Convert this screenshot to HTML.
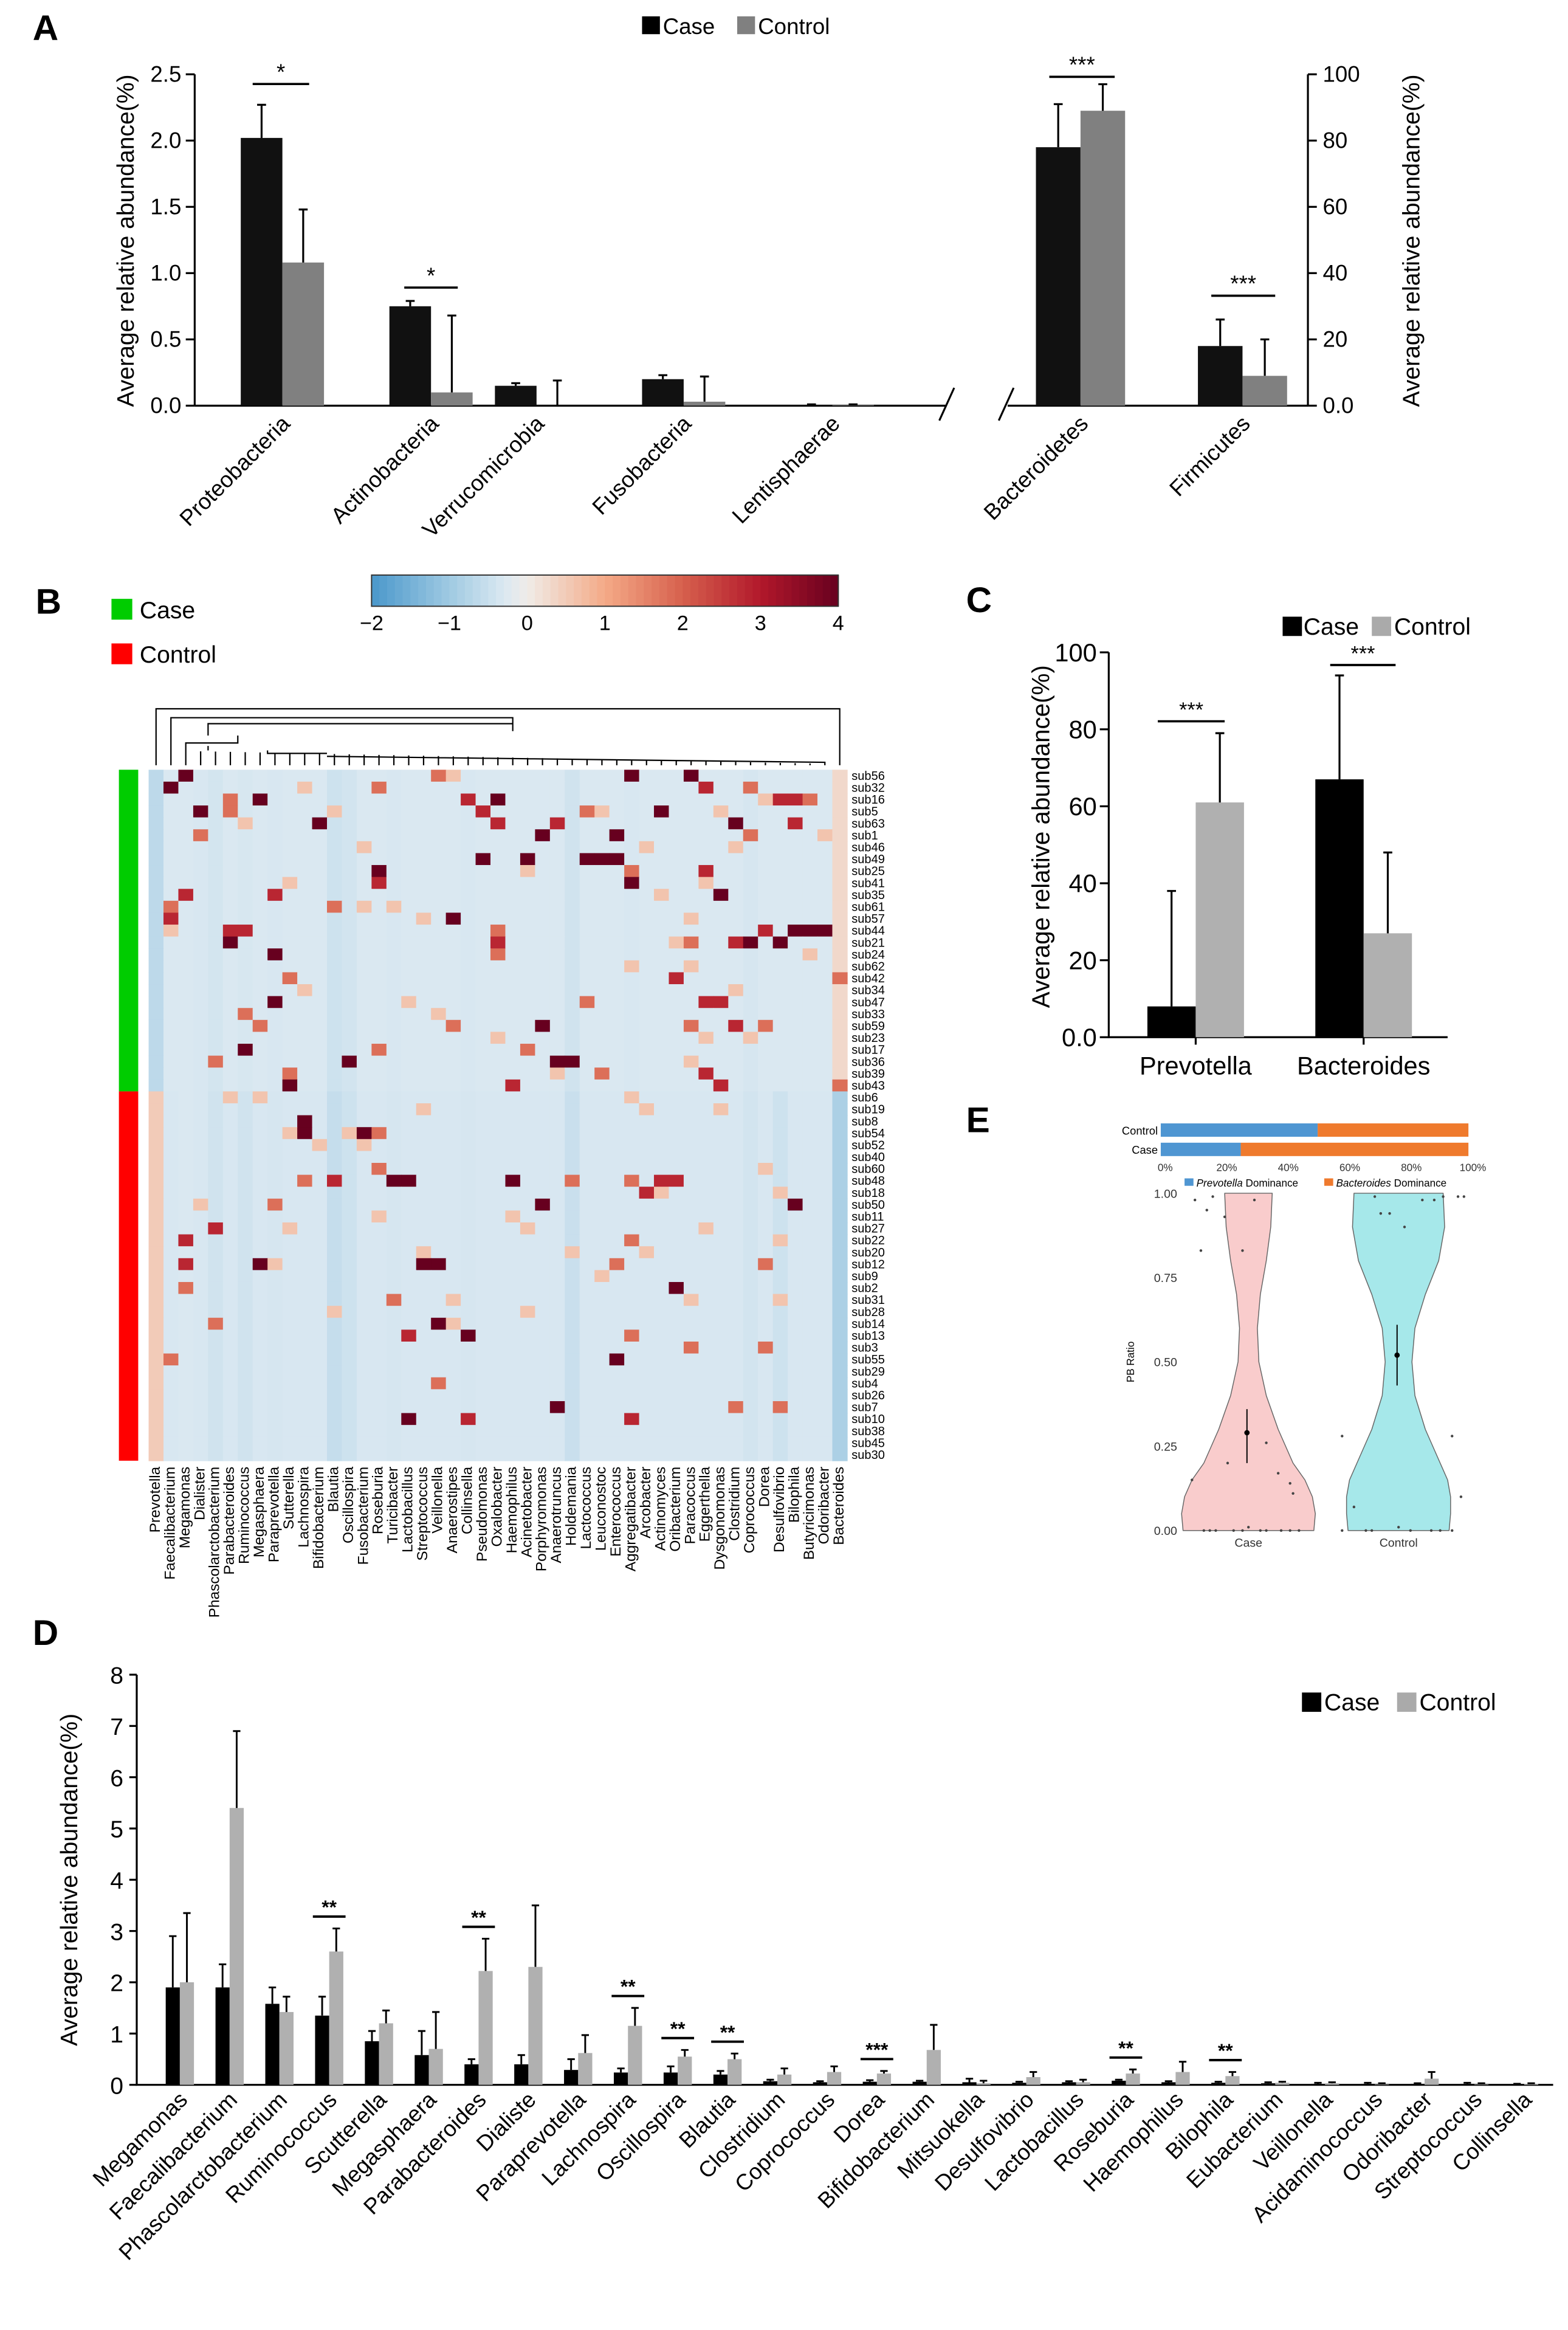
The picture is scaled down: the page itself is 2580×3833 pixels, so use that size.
<!DOCTYPE html>
<html><head><meta charset="utf-8">
<style>
html,body{margin:0;padding:0;background:#fff;}
svg{display:block;font-family:"Liberation Sans",Arial,sans-serif;}
</style></head>
<body>
<svg id="fig" xmlns="http://www.w3.org/2000/svg" width="2580" height="3833" viewBox="0 0 1055 1568" preserveAspectRatio="none">
<rect x="0" y="0" width="1055" height="1568" fill="#fff"/>
<g id="A"></g>
<g id="B"></g>
<g id="C"></g>
<g id="E"></g>
<g id="D"></g>
</svg>
<script>
// ---------- Panel A data ----------
const aLeftCats=["Proteobacteria","Actinobacteria","Verrucomicrobia","Fusobacteria","Lentisphaerae"];
const aLeftCase=[2.02,0.75,0.15,0.2,0.005];
const aLeftCaseErr=[2.27,0.79,0.17,0.23,0.01];
const aLeftCtrl=[1.08,0.1,0.0,0.03,0.005];
const aLeftCtrlErr=[1.48,0.68,0.19,0.22,0.01];
const aLeftTicks=[0,0.5,1.0,1.5,2.0,2.5];
const aRightCats=["Bacteroidetes","Firmicutes"];
const aRightCase=[78,18];
const aRightCaseErr=[91,26];
const aRightCtrl=[89,9];
const aRightCtrlErr=[97,20];
const aRightTicks=[0,20,40,60,80,100];
// ---------- Panel C data ----------
const cCats=["Prevotella","Bacteroides"];
const cCase=[8,67];
const cCaseErr=[38,94];
const cCtrl=[61,27];
const cCtrlErr=[79,48];
const cTicks=[0,20,40,60,80,100];
// ---------- Panel D data ----------
const dCats=["Megamonas","Faecalibacterium","Phascolarctobacterium","Ruminococcus","Scutterella","Megasphaera","Parabacteroides","Dialiste","Paraprevotella","Lachnospira","Oscillospira","Blautia","Clostridium","Coprococcus","Dorea","Bifidobacterium","Mitsuokella","Desulfovibrio","Lactobacillus","Roseburia","Haemophilus","Bilophila","Eubacterium","Veillonella","Acidaminococcus","Odoribacter","Streptococcus","Collinsella"];
const dCase=[1.9,1.9,1.58,1.35,0.85,0.58,0.4,0.4,0.29,0.24,0.24,0.2,0.07,0.05,0.06,0.06,0.05,0.04,0.05,0.08,0.05,0.04,0.03,0.02,0.02,0.02,0.02,0.01];
const dCaseErr=[2.9,2.35,1.9,1.72,1.05,1.05,0.5,0.58,0.5,0.32,0.36,0.27,0.1,0.07,0.09,0.08,0.12,0.06,0.07,0.1,0.07,0.06,0.05,0.04,0.04,0.03,0.04,0.02];
const dCtrl=[2.0,5.4,1.42,2.6,1.2,0.7,2.22,2.3,0.62,1.15,0.55,0.5,0.2,0.25,0.22,0.68,0.03,0.15,0.05,0.22,0.25,0.17,0.04,0.03,0.01,0.12,0.01,0.02];
const dCtrlErr=[3.35,6.9,1.72,3.05,1.45,1.42,2.85,3.5,0.97,1.5,0.68,0.61,0.32,0.36,0.27,1.17,0.08,0.25,0.1,0.3,0.45,0.25,0.06,0.05,0.03,0.25,0.03,0.03];
const dSig=["","","","**","","","**","","","**","**","**","","","***","","","","","**","","**","","","","","",""];
const dTicks=[0,1,2,3,4,5,6,7,8];
// ---------- Panel B data ----------
const hCols=["Prevotella","Faecalibacterium","Megamonas","Dialister","Phascolarctobacterium","Parabacteroides","Ruminococcus","Megasphaera","Paraprevotella","Sutterella","Lachnospira","Bifidobacterium","Blautia","Oscillospira","Fusobacterium","Roseburia","Turicibacter","Lactobacillus","Streptococcus","Veillonella","Anaerostipes","Collinsella","Pseudomonas","Oxalobacter","Haemophilus","Acinetobacter","Porphyromonas","Anaerotruncus","Holdemania","Lactococcus","Leuconostoc","Enterococcus","Aggregatibacter","Arcobacter","Actinomyces","Oribacterium","Paracoccus","Eggerthella","Dysgonomonas","Clostridium","Coprococcus","Dorea","Desulfovibrio","Bilophila","Butyricimonas","Odoribacter","Bacteroides"];
const hRows=["sub56","sub32","sub16","sub5","sub63","sub1","sub46","sub49","sub25","sub41","sub35","sub61","sub57","sub44","sub21","sub24","sub62","sub42","sub34","sub47","sub33","sub59","sub23","sub17","sub36","sub39","sub43","sub6","sub19","sub8","sub54","sub52","sub40","sub60","sub48","sub18","sub50","sub11","sub27","sub22","sub20","sub12","sub9","sub2","sub31","sub28","sub14","sub13","sub3","sub55","sub29","sub4","sub26","sub7","sub10","sub38","sub45","sub30"];
const hGroupCaseCount=27;
const colBaseCase=[-0.65,-0.3,-0.3,-0.32,-0.38,-0.3,-0.33,-0.3,-0.32,-0.3,-0.3,-0.3,-0.45,-0.4,-0.3,-0.3,-0.32,-0.3,-0.3,-0.3,-0.3,-0.32,-0.3,-0.3,-0.3,-0.3,-0.3,-0.3,-0.42,-0.3,-0.3,-0.3,-0.32,-0.3,-0.3,-0.3,-0.3,-0.3,-0.3,-0.3,-0.35,-0.3,-0.3,-0.3,-0.3,-0.3,0.3];
const colBaseCtrl=[0.5,-0.32,-0.3,-0.32,-0.42,-0.32,-0.42,-0.32,-0.35,-0.32,-0.32,-0.32,-0.55,-0.45,-0.32,-0.32,-0.35,-0.32,-0.32,-0.32,-0.32,-0.35,-0.32,-0.32,-0.32,-0.32,-0.32,-0.32,-0.5,-0.32,-0.32,-0.32,-0.32,-0.32,-0.32,-0.32,-0.32,-0.32,-0.32,-0.32,-0.4,-0.32,-0.45,-0.32,-0.32,-0.32,-0.85];
const cellRow=[0,0,0,0,1,1,1,1,2,2,2,2,2,2,2,3,3,3,3,3,4,4,4,4,4,5,5,5,5,7,7,7,7,7,8,8,8,9,9,10,10,10,11,11,12,12,13,13,13,13,13,13,13,14,14,14,14,14,14,15,15,17,17,17,19,19,19,19,20,21,21,21,21,21,21,23,23,23,24,24,24,24,25,25,25,26,26,26,26,29,30,30,30,33,34,34,34,34,34,34,34,34,34,35,36,36,36,38,39,39,41,41,41,41,41,41,43,43,44,46,46,47,47,47,48,48,49,49,51,53,53,53,54,54,54,
 0,1,3,6,2,5,9,11,6,4,12,16,8,14,18,20,22,10,3,15,27,30,2,7,11,13,19,22,25,28,31,33,36,38,40,44,45,0,3,6,9,12,16,18,22,24,27,30,34,37,40,42,44,28,31,35,38,45,27,36,41,44,28,35,38,46,39,40,37,44];
const cellCol=[2,32,36,19,1,15,37,40,7,5,21,23,42,43,44,3,5,22,34,29,11,23,27,39,43,3,26,31,40,22,25,29,30,31,15,32,37,15,32,2,8,38,1,12,1,20,5,6,23,41,43,44,45,5,23,36,39,40,42,8,23,9,35,46,37,38,8,29,6,7,20,26,36,39,41,6,15,25,4,13,27,28,37,9,30,9,24,38,46,10,10,14,15,15,16,17,24,10,12,28,32,34,35,33,8,26,43,4,2,32,7,2,18,19,31,41,2,35,16,4,19,17,21,32,36,41,1,31,19,27,39,42,17,21,32,
 20,10,30,33,41,45,9,14,39,6,18,36,25,35,10,19,40,34,38,44,7,13,21,29,16,1,17,23,27,33,11,41,26,9,33,20,25,20,12,14,37,36,32,39,37,36,5,9,35,15,28,30,36,38,14,42,37,12,32,3,8,42,18,34,25,20,42,18,24];
const cellVal=[4,4,4,1.8,4,1.8,2.8,1.8,4,1.8,2.8,4,2.8,2.8,1.8,4,1.8,2.8,4,1.8,4,2.8,2.8,4,2.8,1.8,4,4,1.8,4,4,4,4,4,4,1.8,2.8,2.8,4,2.8,2.8,4,1.8,1.8,2.8,4,2.8,2.8,1.8,2.8,4,4,4,4,2.8,1.8,2.8,4,4,4,1.8,1.8,2.8,1.8,2.8,2.8,4,1.8,1.8,1.8,1.8,4,1.8,2.8,1.8,4,1.8,1.8,1.8,4,4,4,2.8,1.8,1.8,4,2.8,2.8,1.8,4,4,4,1.8,1.8,4,4,4,1.8,2.8,1.8,1.8,2.8,2.8,2.8,1.8,4,4,2.8,2.8,1.8,4,2.8,4,4,1.8,1.8,1.8,4,1.8,1.8,4,2.8,4,1.8,1.8,1.8,1.8,4,1.8,4,1.8,1.8,4,2.8,2.8,
 0.6,0.6,0.6,0.6,0.6,0.6,0.6,0.6,0.6,0.6,0.6,0.6,0.6,0.6,0.6,0.6,0.6,0.6,0.6,0.6,0.6,0.6,0.6,0.6,0.6,0.6,0.6,0.6,0.6,0.6,0.6,0.6,0.6,0.6,0.6,0.6,0.6,0.6,0.6,0.6,0.6,0.6,0.6,0.6,0.6,0.6,0.6,0.6,0.6,0.6,0.6,0.6,0.6,0.6,0.6,0.6,0.6,0.6,0.6,0.6,0.6,0.6,0.6,0.6,0.6,0.6,0.6,0.6,0.6,0.6];
const cbTicks=[-2,-1,0,1,2,3,4];
// ---------- Panel E data ----------
const eGroups=["Control","Case"];
const ePrevPct=[51,26];
const ePctTicks=["0%","20%","40%","60%","80%","100%"];
const vY=[0,0.05,0.1,0.15,0.2,0.3,0.4,0.5,0.6,0.7,0.8,0.9,1.0];
const vCaseW=[44,45,43,38,30,20,12,7,6,8,12,15,16];
const vCtrlW=[34,35,35,33,28,18,11,9,11,18,27,31,30];
const vTicks=[0,0.25,0.5,0.75,1.0];
const vCaseMed=[0.29,0.2,0.36];
const vCtrlMed=[0.52,0.43,0.61];
const caseDotDx=[-30,-26,-22,-10,-4,0,8,12,22,28,34,-38,-14,20,28,30,-36,-24,-16,4,-32,-28,12,-4];
const caseDotY=[0,0,0,0,0,0.01,0,0,0,0,0,0.15,0.2,0.17,0.14,0.11,0.98,0.99,0.93,0.98,0.83,0.95,0.26,0.83];
const ctrlDotDx=[-38,-22,-18,0,8,22,28,36,42,-12,-6,4,16,24,30,40,-30,-16,36,44,-38];
const ctrlDotY=[0,0,0,0.01,0,0,0,0,0.1,0.94,0.94,0.9,0.98,0.98,0.99,0.99,0.07,0.99,0.28,0.99,0.28];

const NS="http://www.w3.org/2000/svg";
function mk(parent,tag,attrs,text){const e=document.createElementNS(NS,tag);for(const k in attrs)e.setAttribute(k,attrs[k]);if(text!==undefined)e.textContent=text;parent.appendChild(e);return e;}

// ===== Panel A =====
(function(){
const g=document.getElementById('A');
const y0=273,yTop=50;
const yl=v=>y0-(v/2.5)*(y0-yTop);
const yr=v=>y0-(v/100)*(y0-yTop);
let t;
t=mk(g,'text',{x:22,y:27,'font-size':24,'font-weight':'bold'},'A');


let r=mk(g,'rect',{x:432,y:11,width:12,height:12,fill:'#000'});


t=mk(g,'text',{x:446,y:23,'font-size':15},'Case');


r=mk(g,'rect',{x:496,y:11,width:12,height:12,fill:'#808080'});


t=mk(g,'text',{x:510,y:23,'font-size':15},'Control');


let l=mk(g,'line',{x1:131,y1:yl(2.5),x2:131,y2:y0,stroke:'#000','stroke-width':1.3});


aLeftTicks.forEach(v=>{
 const tk=mk(g,'line',{x1:125,y1:yl(v),x2:131,y2:yl(v),stroke:'#000','stroke-width':1.3});
 
 
 const tl=mk(g,'text',{x:122,y:yl(v)+5,'font-size':15,'text-anchor':'end'},v.toFixed(1));
 
 
});
t=mk(g,'text',{x:0,y:0,'font-size':16,'text-anchor':'middle',transform:'translate(90,162) rotate(-90)'},'Average relative abundance(%)');


l=mk(g,'path',{d:`M131 ${y0} L636 ${y0} M632 ${y0+10} L642 ${y0-12} M672 ${y0+10} L682 ${y0-12} M678 ${y0} L880 ${y0}`,stroke:'#000','stroke-width':1.3,fill:'none'});


l=mk(g,'line',{x1:880,y1:yr(100),x2:880,y2:y0,stroke:'#000','stroke-width':1.3});


aRightTicks.forEach(v=>{
 const tk=mk(g,'line',{x1:880,y1:yr(v),x2:886,y2:yr(v),stroke:'#000','stroke-width':1.3});
 
 
 const tl=mk(g,'text',{x:890,y:yr(v)+5,'font-size':15},v===0?'0.0':String(v));
 
 
});
t=mk(g,'text',{x:0,y:0,'font-size':16,'text-anchor':'middle',transform:'translate(955,162) rotate(-90)'},'Average relative abundance(%)');


function bar(x,w,v,ev,fn,col,nm){
 const b=mk(g,'rect',{x:x,y:fn(v),width:w,height:y0-fn(v),fill:col});
 
 
 const e=mk(g,'path',{d:`M${x+w/2} ${fn(v)} L${x+w/2} ${fn(ev)} M${x+w/2-3} ${fn(ev)} L${x+w/2+3} ${fn(ev)}`,stroke:'#000','stroke-width':1.3});
 
 
}
const leftX=[162,262,333,432,532];
aLeftCats.forEach((c,i)=>{
 bar(leftX[i],28,aLeftCase[i],aLeftCaseErr[i],yl,'#111','bar-case-'+c.toLowerCase());
 bar(leftX[i]+28,28,aLeftCtrl[i],aLeftCtrlErr[i],yl,'#808080','bar-control-'+c.toLowerCase());
 const lb=mk(g,'text',{x:0,y:0,'font-size':15,'text-anchor':'end',transform:`translate(${leftX[i]+34},286) rotate(-45)`},c);
 
 
});
const rightX=[697,806];
aRightCats.forEach((c,i)=>{
 bar(rightX[i],30,aRightCase[i],aRightCaseErr[i],yr,'#111','bar-case-'+c.toLowerCase());
 bar(rightX[i]+30,30,aRightCtrl[i],aRightCtrlErr[i],yr,'#808080','bar-control-'+c.toLowerCase());
 const lb=mk(g,'text',{x:0,y:0,'font-size':15,'text-anchor':'end',transform:`translate(${rightX[i]+36},286) rotate(-45)`},c);
 
 
});
function sig(x1,x2,y,s){
 const ln=mk(g,'line',{x1:x1,y1:y,x2:x2,y2:y,stroke:'#000','stroke-width':1.5});
 
 
 const st=mk(g,'text',{x:(x1+x2)/2,y:y-3,'font-size':15,'text-anchor':'middle'},s);
 
 
}
sig(170,208,yl(2.27)-14,'*');
sig(272,308,yl(0.79)-9,'*');
sig(706,750,yr(97)-5,'***');
sig(815,858,yr(26)-16,'***');
})();

// ===== Panel B =====
(function(){
const g=document.getElementById('B');
let t=mk(g,'text',{x:24,y:413,'font-size':24,'font-weight':'bold'},'B');


let r=mk(g,'rect',{x:75,y:403,width:14,height:14,fill:'#00cc00'});


t=mk(g,'text',{x:94,y:416,'font-size':16},'Case');


r=mk(g,'rect',{x:75,y:433,width:14,height:14,fill:'#ff0000'});


t=mk(g,'text',{x:94,y:446,'font-size':16},'Control');


const stops=[[-2,[74,151,203]],[-1,[159,202,226]],[-0.3,[218,232,241]],[0,[240,236,232]],[1,[244,170,135]],[2,[214,96,77]],[3,[178,24,43]],[4,[103,0,31]]];
function cmap(v){
 v=Math.max(-2,Math.min(4,v));
 for(let i=0;i<stops.length-1;i++){
  if(v<=stops[i+1][0]){const f=(v-stops[i][0])/(stops[i+1][0]-stops[i][0]);const a=stops[i][1],b=stops[i+1][1];return `rgb(${Math.round(a[0]+(b[0]-a[0])*f)},${Math.round(a[1]+(b[1]-a[1])*f)},${Math.round(a[2]+(b[2]-a[2])*f)})`;}
 }
 return 'rgb(103,0,31)';
}
const cbx0=250,cbx1=564,cby=387,cbh=21;
const cbScale=v=>cbx0+(v+2)/6*(cbx1-cbx0);
const nSteps=60;
for(let i=0;i<nSteps;i++){
 const v=-2+6*(i+0.5)/nSteps;
 const s=mk(g,'rect',{x:cbScale(-2+6*i/nSteps),y:cby,width:(cbx1-cbx0)/nSteps+0.4,height:cbh,fill:cmap(v)});
 
 
}
r=mk(g,'rect',{x:cbx0,y:cby,width:cbx1-cbx0,height:cbh,fill:'none',stroke:'#333','stroke-width':0.8});


cbTicks.forEach(v=>{
 const tl=mk(g,'text',{x:cbScale(v),y:cby+cbh+16,'font-size':14,'text-anchor':'middle'},v<0?'\u2212'+(-v):String(v));
 
 
});
const hx0=100,hx1=570,hy0=518,hy1=983;
const cw=(hx1-hx0)/hCols.length,rh=(hy1-hy0)/hRows.length;
const M=hRows.map((_,ri)=>hCols.map((_,ci)=>ri<hGroupCaseCount?colBaseCase[ci]:colBaseCtrl[ci]));
cellRow.forEach((ri,k)=>{if(ri<hRows.length&&cellCol[k]<hCols.length)M[ri][cellCol[k]]=Math.max(M[ri][cellCol[k]],cellVal[k]);});
M.forEach((row,ri)=>row.forEach((v,ci)=>{
 const c=mk(g,'rect',{x:hx0+ci*cw,y:hy0+ri*rh,width:cw+0.3,height:rh+0.3,fill:cmap(v)});
 
 
}));
r=mk(g,'rect',{x:80,y:hy0,width:13,height:rh*hGroupCaseCount,fill:'#00cc00'});


r=mk(g,'rect',{x:80,y:hy0+rh*hGroupCaseCount,width:13,height:rh*(hRows.length-hGroupCaseCount),fill:'#ff0000'});


hRows.forEach((s,ri)=>{
 const tl=mk(g,'text',{x:hx1+3,y:hy0+ri*rh+rh*0.85,'font-size':8.2},s);
 
 
});
hCols.forEach((s,ci)=>{
 const tl=mk(g,'text',{x:0,y:0,'font-size':10,'text-anchor':'end',transform:`translate(${hx0+ci*cw+cw*0.75},${hy1+4}) rotate(-90)`},s);
 
 
});
let d=`M${hx0+cw*0.5} ${hy0-3} L${hx0+cw*0.5} 477 L${hx1-cw*0.5} 477 L${hx1-cw*0.5} ${hy0-3}`;
d+=` M${hx0+cw*1.5} ${hy0-3} L${hx0+cw*1.5} 483 L345 483 L345 492`;
d+=` M${hx0+cw*4} 495 L${hx0+cw*4} 487 L345 487`;
d+=` M${hx0+cw*2.5} ${hy0-3} L${hx0+cw*2.5} 500 L${hx0+cw*6} 500 L${hx0+cw*6} 495`;
d+=` M${hx0+cw*4} 502 L${hx0+cw*4} 505 M${hx0+cw*8} 505 L${hx0+cw*8} 507 L${hx0+cw*12} 507 M${hx0+cw*12} 509 L${hx1-cw*1.5} 513 L${hx1-cw*1.5} ${hy0-3}`;
for(let i=3;i<hCols.length-1;i++){const x=hx0+cw*(i+0.5);d+=` M${x} ${hy0-3} L${x} ${Math.min(hy0-3,505+i*0.2)}`;}
const dg=mk(g,'path',{d:d,stroke:'#000','stroke-width':0.9,fill:'none'});


})();

// ===== Panel C =====
(function(){
const g=document.getElementById('C');
const y0=698,yT=439,ax=746;
const y=v=>y0-v/100*(y0-yT);
let t=mk(g,'text',{x:650,y:412,'font-size':24,'font-weight':'bold'},'C');


let r=mk(g,'rect',{x:863,y:415,width:13,height:13,fill:'#000'});


t=mk(g,'text',{x:877,y:427,'font-size':16},'Case');


r=mk(g,'rect',{x:923,y:415,width:13,height:13,fill:'#aaa'});


t=mk(g,'text',{x:938,y:427,'font-size':16},'Control');


let l=mk(g,'path',{d:`M${ax} ${y(100)} L${ax} ${y0} L974 ${y0}`,stroke:'#000','stroke-width':1.3,fill:'none'});


cTicks.forEach(v=>{
 const tk=mk(g,'line',{x1:ax-6,y1:y(v),x2:ax,y2:y(v),stroke:'#000','stroke-width':1.3});
 
 
 const tl=mk(g,'text',{x:ax-8,y:y(v)+6,'font-size':17,'text-anchor':'end'},v===0?'0.0':String(v));
 
 
});
t=mk(g,'text',{x:0,y:0,'font-size':16.5,'text-anchor':'middle',transform:'translate(706,563) rotate(-90)'},'Average relative abundance(%)');


const gx=[772,885];
const bwc=32.5;
function bar(x,v,ev,col,nm){
 const b=mk(g,'rect',{x:x,y:y(v),width:bwc,height:y0-y(v),fill:col});
 
 
 const e=mk(g,'path',{d:`M${x+bwc/2} ${y(v)} L${x+bwc/2} ${y(ev)} M${x+bwc/2-3} ${y(ev)} L${x+bwc/2+3} ${y(ev)}`,stroke:'#000','stroke-width':1.3});
 
 
}
cCats.forEach((c,i)=>{
 bar(gx[i],cCase[i],cCaseErr[i],'#000','bar-case-'+c.toLowerCase());
 bar(gx[i]+bwc,cCtrl[i],cCtrlErr[i],'#b0b0b0','bar-control-'+c.toLowerCase());
 const tk=mk(g,'line',{x1:gx[i]+bwc,y1:y0,x2:gx[i]+bwc,y2:y0+5,stroke:'#000','stroke-width':1.3});
 
 
 const tl=mk(g,'text',{x:gx[i]+bwc,y:723,'font-size':17,'text-anchor':'middle'},c);
 
 
});
function sig(x1,x2,yy){
 const ln=mk(g,'line',{x1:x1,y1:yy,x2:x2,y2:yy,stroke:'#000','stroke-width':1.5});
 
 
 const st=mk(g,'text',{x:(x1+x2)/2,y:yy-3,'font-size':14,'text-anchor':'middle'},'***');
 
 
}
sig(779,824,y(Math.max(cCaseErr[0],cCtrlErr[0]))-8);
sig(895,939,y(Math.max(cCaseErr[1],cCtrlErr[1]))-7);
})();

// ===== Panel E =====
(function(){
const g=document.getElementById('E');
let t=mk(g,'text',{x:650,y:762,'font-size':24,'font-weight':'bold'},'E');


const bx0=781,bx1=988;
const px=p=>bx0+p/100*(bx1-bx0);
const by=[756,769];
eGroups.forEach((gr,i)=>{
 const a=mk(g,'rect',{x:bx0,y:by[i],width:px(ePrevPct[i])-bx0,height:9,fill:'#4f96d2'});
 
 
 const b=mk(g,'rect',{x:px(ePrevPct[i]),y:by[i],width:bx1-px(ePrevPct[i]),height:9,fill:'#ef7a2d'});
 
 
 const tl=mk(g,'text',{x:bx0-2,y:by[i]+7.5,'font-size':7.5,'text-anchor':'end'},gr);
 
 
});
ePctTicks.forEach((s,i)=>{
 const tl=mk(g,'text',{x:px(i*20)+3,y:788,'font-size':7,'text-anchor':'middle',fill:'#333'},s);
 
 
});
let r=mk(g,'rect',{x:797,y:793,width:6,height:5,fill:'#4f96d2'});


t=mk(g,'text',{x:805,y:798.5,'font-size':7},'');


mk(t,'tspan',{'font-style':'italic'},'Prevotella');
mk(t,'tspan',{},' Dominance');
r=mk(g,'rect',{x:891,y:793,width:6,height:5,fill:'#ef7a2d'});


t=mk(g,'text',{x:899,y:798.5,'font-size':7},'');


mk(t,'tspan',{'font-style':'italic'},'Bacteroides');
mk(t,'tspan',{},' Dominance');
const vy0=1030,vy1=803;
const y=v=>vy0-v*(vy0-vy1);
vTicks.forEach(v=>{
 const tl=mk(g,'text',{x:792,y:y(v)+3,'font-size':8,'text-anchor':'end',fill:'#333'},v.toFixed(2));
 
 
});
t=mk(g,'text',{x:0,y:0,'font-size':7,'text-anchor':'middle',transform:`translate(763,${y(0.5)}) rotate(-90)`},'PB Ratio');


function violin(cx,W,fill,nm){
 let p='M'+(cx-W[0])+' '+y(vY[0]);
 for(let i=1;i<vY.length;i++)p+=' L'+(cx-W[i])+' '+y(vY[i]);
 for(let i=vY.length-1;i>=0;i--)p+=' L'+(cx+W[i])+' '+y(vY[i]);
 p+=' Z';
 const v=mk(g,'path',{d:p,fill:fill,stroke:'#666','stroke-width':0.6,'stroke-linejoin':'round'});
 
 
}
violin(840,vCaseW,'#f9cccc','violin-case');
violin(941,vCtrlW,'#a6e8ea','violin-control');
function dots(cx,DX,DY){DX.forEach((dx,i)=>{
 const c=mk(g,'circle',{cx:cx+dx,cy:y(DY[i]),r:0.9,fill:'#444'});
 
 
});}
dots(840,caseDotDx,caseDotY);
dots(941,ctrlDotDx,ctrlDotY);
function med(cx,m,nm){
 const l=mk(g,'line',{x1:cx,y1:y(m[1]),x2:cx,y2:y(m[2]),stroke:'#000','stroke-width':0.8});
 
 
 const c=mk(g,'circle',{cx:cx,cy:y(m[0]),r:1.8,fill:'#000'});
 
 
}
med(839,vCaseMed,'median-case');
med(940,vCtrlMed,'median-control');
t=mk(g,'text',{x:840,y:1041,'font-size':8,'text-anchor':'middle',fill:'#333'},'Case');


t=mk(g,'text',{x:941,y:1041,'font-size':8,'text-anchor':'middle',fill:'#333'},'Control');


})();

// ===== Panel D =====
(function(){
const g=document.getElementById('D');
const y0=1403,yT=1127,ax=92;
const y=v=>y0-v/8*(y0-yT);
const step=33.5,c0=121,bw=9.5;
const cx=i=>c0+i*step;
let t=mk(g,'text',{x:22,y:1107,'font-size':24,'font-weight':'bold'},'D');


let r=mk(g,'rect',{x:876,y:1139,width:13,height:13,fill:'#000'});


t=mk(g,'text',{x:891,y:1151,'font-size':16},'Case');


r=mk(g,'rect',{x:940,y:1139,width:13,height:13,fill:'#aaa'});


t=mk(g,'text',{x:955,y:1151,'font-size':16},'Control');


let l=mk(g,'path',{d:`M${ax} ${y(8)} L${ax} ${y0} L1045 ${y0}`,stroke:'#000','stroke-width':1.3,fill:'none'});


dTicks.forEach(v=>{
 const tk=mk(g,'line',{x1:ax-5,y1:y(v),x2:ax,y2:y(v),stroke:'#000','stroke-width':1.3});
 
 
 const tl=mk(g,'text',{x:ax-9,y:y(v)+6,'font-size':16,'text-anchor':'end'},String(v));
 
 
});
t=mk(g,'text',{x:0,y:0,'font-size':16,'text-anchor':'middle',transform:'translate(52,1265) rotate(-90)'},'Average relative abundance(%)');


function bar(x,v,ev,col,nm){
 const b=mk(g,'rect',{x:x,y:y(v),width:bw,height:y0-y(v),fill:col});
 
 
 const e=mk(g,'path',{d:`M${x+bw/2} ${y(v)} L${x+bw/2} ${y(ev)} M${x+bw/2-2.5} ${y(ev)} L${x+bw/2+2.5} ${y(ev)}`,stroke:'#000','stroke-width':1.2});
 
 
}
dCats.forEach((c,i)=>{
 bar(cx(i)-bw,dCase[i],dCaseErr[i],'#000','bar-case-'+c.toLowerCase());
 bar(cx(i),dCtrl[i],dCtrlErr[i],'#b0b0b0','bar-control-'+c.toLowerCase());
 const tl=mk(g,'text',{x:0,y:0,'font-size':15,'text-anchor':'end',transform:`translate(${cx(i)+6},1414) rotate(-45)`},c);
 
 
 if(dSig[i]){
  const yy=y(Math.max(dCaseErr[i],dCtrlErr[i]))-8;
  const ln=mk(g,'line',{x1:cx(i)-11,y1:yy,x2:cx(i)+11,y2:yy,stroke:'#000','stroke-width':1.6});
  
  
  const st=mk(g,'text',{x:cx(i),y:yy-2,'font-size':13,'text-anchor':'middle','font-weight':'bold'},dSig[i]);
  
  
 }
});
})();
</script>
</body></html>
